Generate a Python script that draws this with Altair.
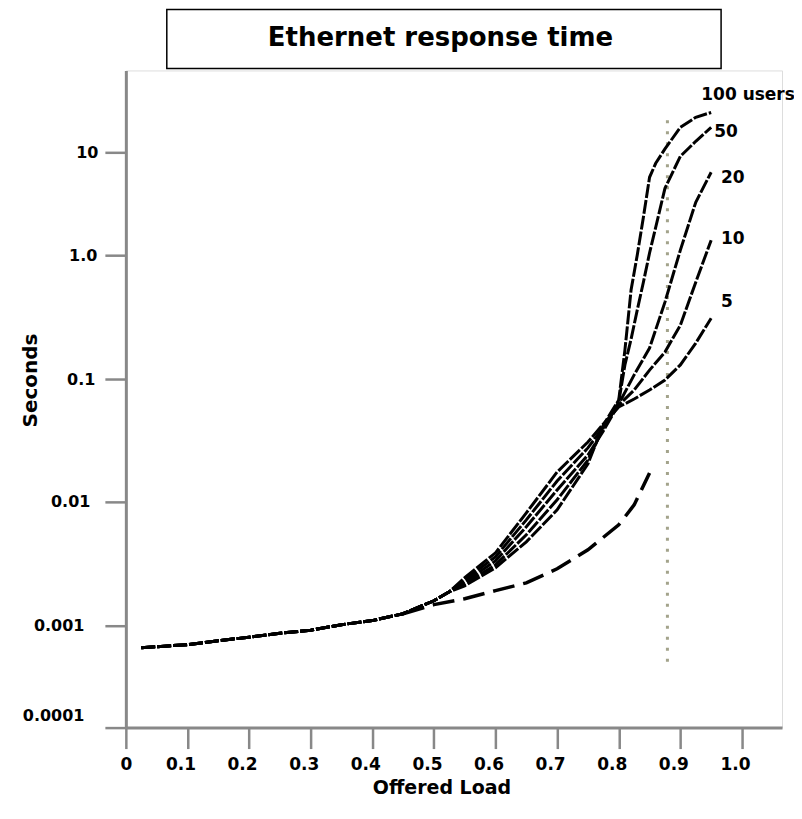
import altair as alt
import pandas as pd

FONT = "DejaVu Sans"

# ---- shared low-load part (all user counts coincide) ----
x_common = [0.025, 0.1, 0.15, 0.2, 0.25, 0.3, 0.35, 0.4, 0.45, 0.5, 0.525]
y_common = [0.000608, 0.000652, 0.000713, 0.000771, 0.000844, 0.000904,
            0.00102, 0.00110, 0.00125, 0.00159, 0.00188]

# ---- rising part up to the crossing near 0.8 ----
x_rise = [0.55, 0.6, 0.65, 0.7, 0.75, 0.775, 0.8]
y_rise_5 = [0.00244, 0.00388, 0.00815, 0.0175, 0.0307, 0.0431, 0.0592]
y_rise_10 = [0.00235, 0.00360, 0.00716, 0.0148, 0.0275, 0.0407, 0.0615]
y_rise_20 = [0.00226, 0.00334, 0.00629, 0.0125, 0.0241, 0.0378, 0.0626]
y_rise_50 = [0.00218, 0.00310, 0.00542, 0.0104, 0.0219, 0.0400, 0.0650]
y_rise_100 = [0.00210, 0.00294, 0.00476, 0.00862, 0.0204, 0.0423, 0.0675]

# ---- high-load part ----
x_hi_a = [0.825, 0.85, 0.875, 0.9, 0.925, 0.95]
y_hi_5 = [0.0688, 0.0814, 0.0981, 0.130, 0.195, 0.310]
y_hi_10 = [0.0814, 0.118, 0.165, 0.272, 0.605, 1.40]
y_hi_20 = [0.108, 0.178, 0.418, 1.12, 3.27, 6.40]
x_hi_b = [0.81, 0.82, 0.83, 0.84, 0.85, 0.86, 0.875, 0.9, 0.925, 0.95]
y_hi_50 = [0.130, 0.210, 0.360, 0.605, 1.05, 1.87, 4.47, 9.15, 12.8, 17.5]
y_hi_100 = [0.171, 0.523, 1.0, 2.34, 5.72, 7.82, 10.8, 17.5, 21.9, 24.4]

# ---- lower dashed curve ----
x_low = [0.45, 0.5, 0.55, 0.6, 0.65, 0.7, 0.75, 0.8, 0.825, 0.85]
y_low = [0.00125, 0.00148, 0.00165, 0.00192, 0.00222, 0.00288, 0.00410,
         0.00653, 0.00945, 0.0172]

# ---- dotted marker ----
marker_x = [0.879]
marker_y = [0.000444]
marker_y2 = [22.9]

# ---- curve labels ----
label_text = ["100 users", "50", "20", "10", "5"]
label_x = [0.934, 0.955, 0.966, 0.966, 0.966]
label_y = [35.7, 15.8, 5.65, 1.45, 0.422]

# ---- axes ----
x_ticks = [0, 0.1, 0.2, 0.3, 0.4, 0.5, 0.6, 0.7, 0.8, 0.9, 1.0]
y_ticks = [0.0001, 0.001, 0.01, 0.1, 1, 10]
y_tick_labels = ["0.0001", "0.001", "0.01", "0.1", "1.0", "10"]
y_label_pad = [21, 21, 15, 10, 8, 7]
y_domain = [0.0001, 0.001, 0.01, 0.1, 1, 10, 62.5]
y_range = [658, 556, 432, 309, 185, 82, 0]

series = [
    ("5", y_rise_5, x_hi_a, y_hi_5),
    ("10", y_rise_10, x_hi_a, y_hi_10),
    ("20", y_rise_20, x_hi_a, y_hi_20),
    ("50", y_rise_50, x_hi_b, y_hi_50),
    ("100", y_rise_100, x_hi_b, y_hi_100),
]
rows = []
for name, yr, xh, yh in series:
    xs = x_common + x_rise + xh
    ys = y_common + yr + yh
    for xv, yv in zip(xs, ys):
        rows.append({"users": name, "load": xv, "sec": yv})
df = pd.DataFrame(rows)
df_low = pd.DataFrame({"load": x_low, "sec": y_low})
df_mark = pd.DataFrame({"load": marker_x, "sec": marker_y, "sec2": marker_y2})
df_lab = pd.DataFrame({"load": label_x, "sec": label_y, "text": label_text})

# label expressions for the y axis
expr = "''"
pad_expr = "7"
for v, t, p in reversed(list(zip(y_ticks, y_tick_labels, y_label_pad))):
    expr = f"datum.value < {v * 3} ? '{t}' : ({expr})"
pad_conditions = [
    {"test": f"datum.value < {v * 3} && datum.value > {v / 3}", "value": p}
    for v, p in zip(y_ticks, y_label_pad)
]

xscale = alt.Scale(domain=[0, 1.065], nice=False, zero=False)
yscale = alt.Scale(type="log", domain=y_domain, range=y_range, nice=False)

xaxis = alt.Axis(
    values=x_ticks,
    labelExpr="datum.value == 0 ? '0' : format(datum.value, '.1f')",
    title="Offered Load", titleFont=FONT, titleFontSize=19, titleFontWeight="bold",
    titleColor="black", titleX=316, titleY=60, titleBaseline="middle", titleAlign="center",
    labelFont=FONT, labelFontSize=17, labelFontWeight="bold", labelColor="black",
    labelPadding=8, labelOverlap=False, labelFlush=False,
    labelOffset={"condition": {"test": "datum.value == 0", "value": 0}, "value": -7},
    tickSize=21, tickWidth=2.5, tickColor="#888888",
    domainColor="#888888", domainWidth=3, grid=False,
)
yaxis = alt.Axis(
    values=y_ticks, labelExpr=expr,
    title="Seconds", titleFont=FONT, titleFontSize=20, titleFontWeight="bold",
    titleColor="black", titleX=-95, titleY=310, titleBaseline="middle", titleAlign="center",
    titleAngle=270,
    labelFont=FONT, labelFontSize=16, labelFontWeight="bold", labelColor="black",
    labelPadding={"condition": pad_conditions, "value": 9},
    labelOverlap=False, labelFlush=False,
    labelOffset={"condition": {"test": "datum.value < 0.0002", "value": -12}, "value": 0},
    tickSize=21, tickWidth=2.5, tickColor="#888888",
    domainColor="#888888", domainWidth=3, grid=False,
)

X = alt.X("load:Q", scale=xscale, axis=xaxis)
Y = alt.Y("sec:Q", scale=yscale, axis=yaxis)

lines = alt.Chart(df).mark_line(color="black", strokeWidth=3, strokeDash=[14, 2]).encode(
    x=X, y=Y, detail="users:N", order="load:Q"
)
low = alt.Chart(df_low).mark_line(color="black", strokeWidth=3.5, strokeDash=[22, 9]).encode(
    x=X, y=Y, order="load:Q"
)
marker = alt.Chart(df_mark).mark_rule(color="#a3a38b", strokeWidth=3, strokeDash=[3, 8]).encode(
    x=X, y=Y, y2="sec2:Q"
)
labels = alt.Chart(df_lab).mark_text(
    align="left", baseline="middle", font=FONT, fontSize=17, fontWeight="bold", color="black"
).encode(x=X, y=Y, text="text:N")

title_box = alt.Chart(pd.DataFrame({"t": ["Ethernet response time"]})).mark_rect(
    fill="white", stroke="black", strokeWidth=1.5
).encode(x=alt.value(41), x2=alt.value(596), y=alt.value(-61), y2=alt.value(-2))
title_text = alt.Chart(pd.DataFrame({"t": ["Ethernet response time"]})).mark_text(
    font=FONT, fontSize=26, fontWeight="bold", color="black", align="center", baseline="middle"
).encode(x=alt.value(315), y=alt.value(-32), text="t:N")

chart = alt.layer(marker, low, lines, labels, title_box, title_text).properties(
    width=657, height=658,
    autosize=alt.AutoSizeParams(type="none"),
    padding={"left": 118, "top": 62, "right": 12, "bottom": 70},
).configure_view(stroke=None).configure(background="white")

chart.save("out.html", embed_options={"renderer": "svg", "actions": False})
